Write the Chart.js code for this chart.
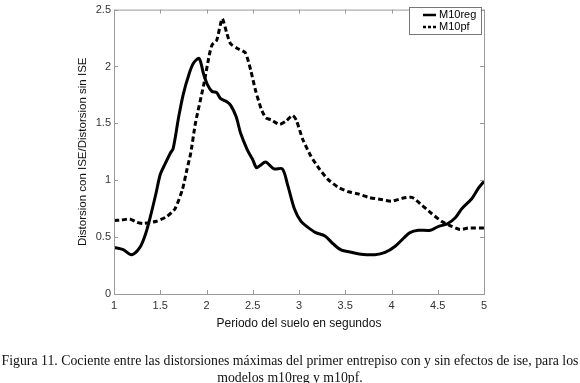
<!DOCTYPE html>
<html>
<head>
<meta charset="utf-8">
<script src="https://cdn.jsdelivr.net/npm/chart.js@4/dist/chart.umd.min.js"></script>
<style>
  html, body { margin: 0; padding: 0; background: #fff; }
  #wrap { position: relative; width: 580px; height: 383px; overflow: hidden; }
  #c { position: absolute; left: 0; top: 0; }
  #caption { position: absolute; left: 0; top: 352px; width: 580px; text-align: center; white-space: nowrap;
    font-family: "Liberation Serif", "Times New Roman", serif; font-size: 13.8px; line-height: 17px; color: #111; }
</style>
</head>
<body>
<div id="wrap">
  <canvas id="c" width="580" height="383"></canvas>
  <div id="caption">Figura 11. Cociente entre las distorsiones máximas del primer entrepiso con y sin efectos de ise, para los<br>modelos m10reg y m10pf.</div>
</div>
<script>
const xTicks = [1, 1.5, 2, 2.5, 3, 3.5, 4, 4.5, 5];
const yTicks = [0, 0.5, 1, 1.5, 2, 2.5];

const seriesNames = ["M10reg", "M10pf"];

const regX = [1.00, 1.10, 1.19, 1.28, 1.34, 1.39, 1.45, 1.50, 1.55, 1.61, 1.64, 1.70, 1.75, 1.81, 1.86, 1.92, 1.97, 2.01, 2.06, 2.11, 2.15, 2.22, 2.26, 2.32, 2.37, 2.44, 2.50, 2.54, 2.58, 2.64, 2.73, 2.82, 2.88, 2.95, 3.02, 3.09, 3.18, 3.28, 3.37, 3.46, 3.55, 3.67, 3.82, 3.93, 4.04, 4.13, 4.20, 4.29, 4.42, 4.51, 4.60, 4.69, 4.76, 4.87, 4.94, 5.00];
const regY = [0.41, 0.39, 0.345, 0.41, 0.525, 0.67, 0.87, 1.05, 1.14, 1.24, 1.28, 1.56, 1.76, 1.93, 2.03, 2.07, 1.93, 1.84, 1.78, 1.77, 1.72, 1.69, 1.66, 1.56, 1.41, 1.27, 1.18, 1.11, 1.13, 1.16, 1.10, 1.10, 0.95, 0.75, 0.64, 0.59, 0.54, 0.51, 0.44, 0.385, 0.37, 0.35, 0.345, 0.365, 0.42, 0.49, 0.54, 0.56, 0.56, 0.595, 0.615, 0.67, 0.75, 0.84, 0.93, 0.99];

const pfX = [1.00, 1.08, 1.17, 1.25, 1.32, 1.46, 1.57, 1.66, 1.74, 1.79, 1.83, 1.88, 1.97, 2.03, 2.06, 2.11, 2.17, 2.22, 2.26, 2.33, 2.42, 2.48, 2.53, 2.59, 2.64, 2.70, 2.79, 2.86, 2.93, 2.97, 3.04, 3.13, 3.22, 3.31, 3.42, 3.53, 3.64, 3.75, 3.89, 4.00, 4.11, 4.22, 4.33, 4.43, 4.54, 4.65, 4.74, 4.83, 5.00];
const pfY = [0.646, 0.65, 0.66, 0.63, 0.62, 0.64, 0.68, 0.75, 0.92, 1.10, 1.24, 1.50, 1.84, 2.10, 2.19, 2.23, 2.42, 2.29, 2.20, 2.16, 2.12, 1.96, 1.79, 1.63, 1.55, 1.53, 1.49, 1.52, 1.57, 1.53, 1.36, 1.21, 1.10, 1.01, 0.94, 0.90, 0.88, 0.85, 0.83, 0.815, 0.84, 0.85, 0.78, 0.71, 0.64, 0.595, 0.566, 0.58, 0.58];

const toPoints = (xs, ys) => xs.map((x, i) => ({ x: x, y: ys[i] }));

const AXIS_COLOR = '#9a9a9a';
const TEXT_COLOR = '#333333';
const SANS = '"Liberation Sans", Arial, sans-serif';

const frameTicks = {
  id: 'frameTicks',
  afterDraw(chart) {
    const { ctx, chartArea: a, scales } = chart;
    ctx.save();
    ctx.strokeStyle = AXIS_COLOR;
    ctx.lineWidth = 1;
    ctx.strokeRect(a.left + 0.5, a.top + 0.5, a.right - a.left, a.bottom - a.top);
    const L = 4;
    ctx.beginPath();
    xTicks.forEach(v => {
      const px = Math.round(scales.x.getPixelForValue(v)) + 0.5;
      ctx.moveTo(px, a.bottom); ctx.lineTo(px, a.bottom - L);
      ctx.moveTo(px, a.top); ctx.lineTo(px, a.top + L);
    });
    yTicks.forEach(v => {
      const py = Math.round(scales.y.getPixelForValue(v)) + 0.5;
      ctx.moveTo(a.left, py); ctx.lineTo(a.left + L, py);
      ctx.moveTo(a.right, py); ctx.lineTo(a.right - L, py);
    });
    ctx.stroke();

    // legend box inside plot, top-right
    const bx = 409, by = 7, bw = 72, bh = 27;
    ctx.fillStyle = '#fff';
    ctx.fillRect(bx, by, bw, bh);
    ctx.strokeStyle = '#777';
    ctx.strokeRect(bx + 0.5, by + 0.5, bw, bh);
    ctx.font = '11px ' + SANS;
    ctx.textBaseline = 'middle';
    chart.data.datasets.forEach((ds, i) => {
      const cy = by + 8 + i * 12;
      ctx.save();
      ctx.strokeStyle = ds.borderColor;
      ctx.lineWidth = 2.5;
      ctx.setLineDash(ds.borderDash ? [3, 2] : []);
      ctx.beginPath();
      ctx.moveTo(bx + 14, cy); ctx.lineTo(bx + 27, cy);
      ctx.stroke();
      ctx.restore();
      ctx.fillStyle = '#000';
      ctx.fillText(ds.label, bx + 30, cy);
    });
    ctx.restore();
  }
};

new Chart(document.getElementById('c'), {
  type: 'line',
  data: {
    datasets: [
      { label: seriesNames[0], data: toPoints(regX, regY), borderColor: '#000', borderWidth: 3, pointRadius: 0, tension: 0.3, fill: false },
      { label: seriesNames[1], data: toPoints(pfX, pfY), borderColor: '#000', borderWidth: 3, borderDash: [5, 3], pointRadius: 0, tension: 0.2, fill: false }
    ]
  },
  options: {
    responsive: false,
    animation: false,
    layout: { padding: { left: 72, top: 4, right: 96, bottom: 52 } },
    plugins: { legend: { display: false }, tooltip: { enabled: false } },
    scales: {
      x: {
        type: 'linear', min: 1, max: 5,
        afterBuildTicks: s => { s.ticks = xTicks.map(v => ({ value: v })); },
        afterFit: s => { s.height = 37; },
        grid: { display: false, drawTicks: false },
        border: { display: false },
        ticks: { color: TEXT_COLOR, font: { family: SANS, size: 11 }, padding: 5, maxRotation: 0, autoSkip: false, callback: v => String(v) },
        title: { display: true, text: 'Periodo del suelo en segundos', color: '#111', font: { family: SANS, size: 12 }, padding: { top: 2, bottom: 0 } }
      },
      y: {
        type: 'linear', min: 0, max: 2.5,
        afterBuildTicks: s => { s.ticks = yTicks.map(v => ({ value: v })); },
        afterFit: s => { s.width = 42; },
        grid: { display: false, drawTicks: false },
        border: { display: false },
        ticks: { color: TEXT_COLOR, font: { family: SANS, size: 11 }, padding: 3, callback: v => String(v) },
        title: { display: true, text: 'Distorsion con ISE/Distorsion sin ISE', color: '#111', font: { family: SANS, size: 11.5 }, padding: { top: 4, bottom: 0 } }
      }
    }
  },
  plugins: [frameTicks]
});
</script>
</body>
</html>
